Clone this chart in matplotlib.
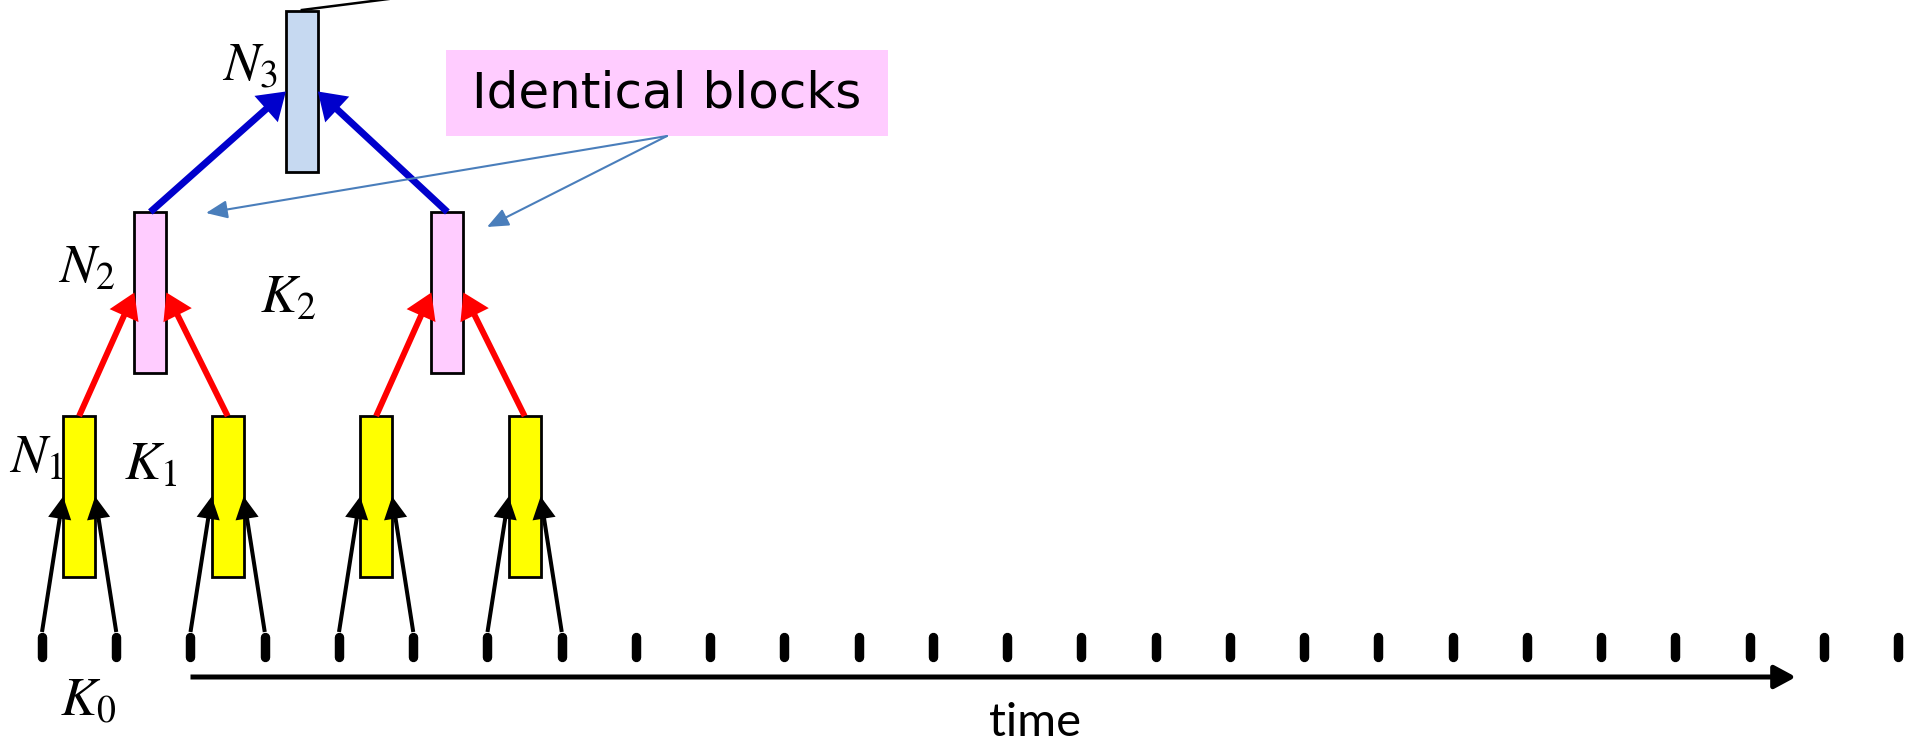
import numpy as np
import matplotlib
matplotlib.use('Agg')
import matplotlib.pyplot as plt
from matplotlib.patches import Rectangle, FancyArrowPatch

plt.rcParams['mathtext.fontset'] = 'stix'

# ---------------- data ----------------
time_steps = np.arange(26)                         # input samples on the time axis
level1_inputs = [(0, 1), (2, 3), (4, 5), (6, 7)]   # samples merged by each N1 block
level2_inputs = [(0, 1), (2, 3)]                   # N1 blocks merged by each N2 block
level3_inputs = [(0, 1)]                           # N2 blocks merged by the N3 block
level_colors = ['#FFFF00', '#FFCCFF', '#C6D9F1']
arrow_colors = ['black', '#FF0000', '#0000CC']
node_labels = [r'$N_1$', r'$N_2$', r'$N_3$']
kernel_labels = [r'$K_0$', r'$K_1$', r'$K_2$']
annotation_text = 'Identical blocks'
axis_label = 'time'

# ---------------- layout (pixel geometry) ----------------
W, H = 1906, 744
T0, STEP = 42.0, 74.25          # pixel x of first sample, pixel spacing


def X(px):
    return (px - T0) / STEP


fig = plt.figure(figsize=(W / 100, H / 100), dpi=100)
ax = fig.add_axes([0, 0, 1, 1])
ax.set_xlim(X(0), X(W))
ax.set_ylim(H, 0)
ax.axis('off')

box_w = 32 / STEP
box_h = 161
level_top = [416, 212, 11]
level_shift = [0.0, -3 / STEP, 0.0]   # small drawing offsets seen in the figure
arrow_style = [
    dict(lw=2.9, hl=11.5, hw=6.0),
    dict(lw=4.3, hl=12.0, hw=7.5),
    dict(lw=5.0, hl=12.0, hw=8.0),
]

# time ticks
tick_top, tick_bot = 632, 661
for t in time_steps:
    ax.plot([t, t], [tick_top + 4.5, tick_bot - 4.5], color='black', lw=6.8,
            solid_capstyle='round', zorder=3)

# time arrow
ax.add_patch(FancyArrowPatch((time_steps[2], 677), (X(1796), 677),
                             arrowstyle='-|>,head_length=13,head_width=7',
                             mutation_scale=1, lw=3.6, color='black',
                             shrinkA=0, shrinkB=0, capstyle='butt', zorder=3))
ax.text(X(1035), 723, axis_label, ha='center', va='center', fontsize=34,
        family='Lato')

# block centers for each level
c1 = [np.mean([time_steps[a], time_steps[b]]) for a, b in level1_inputs]
c2 = [np.mean([c1[a], c1[b]]) for a, b in level2_inputs]
c3 = [np.mean([c2[a], c2[b]]) for a, b in level3_inputs]
centers = [c1, c2, c3]
drawn = [[c + level_shift[i] for c in centers[i]] for i in range(3)]

sources = [
    ([(time_steps[a], time_steps[b]) for a, b in level1_inputs], tick_top),
    ([(drawn[0][a], drawn[0][b]) for a, b in level2_inputs], level_top[0]),
    ([(drawn[1][a], drawn[1][b]) for a, b in level3_inputs], level_top[1]),
]

for lvl in range(3):
    top = level_top[lvl]
    mid = top + box_h / 2
    st = arrow_style[lvl]
    src_pairs, src_y = sources[lvl]
    for c, (sa, sb) in zip(drawn[lvl], src_pairs):
        ax.add_patch(Rectangle((c - box_w / 2, top), box_w, box_h,
                               facecolor=level_colors[lvl], edgecolor='black',
                               lw=2.0, zorder=2))
        for s, edge in ((sa, c - box_w / 2), (sb, c + box_w / 2)):
            ax.add_patch(FancyArrowPatch(
                (s, src_y), (edge, mid),
                arrowstyle=f'-|>,head_length={st["hl"]},head_width={st["hw"]}',
                mutation_scale=1, lw=st['lw'], color=arrow_colors[lvl],
                shrinkA=0, shrinkB=0, capstyle='butt', joinstyle='miter',
                zorder=4))

# line leaving the top block (continues off the figure)
ax.plot([drawn[2][0], X(420)], [10, -5], color='black', lw=1.8, zorder=3)

# labels
lab_fs = 39
ax.text(X(36), 458, node_labels[0], ha='center', va='center', fontsize=lab_fs)
ax.text(X(87), 268, node_labels[1], ha='center', va='center', fontsize=lab_fs)
ax.text(X(250), 65, node_labels[2], ha='center', va='center', fontsize=lab_fs)
ax.text(X(88), 700, kernel_labels[0], ha='center', va='center', fontsize=lab_fs)
ax.text(X(151), 465, kernel_labels[1], ha='center', va='center', fontsize=lab_fs)
ax.text(X(288), 298, kernel_labels[2], ha='center', va='center', fontsize=lab_fs)

# "Identical blocks" callout
ax.add_patch(Rectangle((X(446), 50), X(888) - X(446), 86, facecolor='#FFCCFF',
                       edgecolor='none', zorder=2))
ax.text(X(667), 93, annotation_text, ha='center', va='center', fontsize=36,
        family='DejaVu Sans', zorder=3)
for tip in ((X(206), 213), (X(487), 227)):
    ax.add_patch(FancyArrowPatch((X(667), 136), tip,
                                 arrowstyle='-|>,head_length=13,head_width=5.5',
                                 mutation_scale=1, lw=1.5, color='#4A7EBB',
                                 shrinkA=0, shrinkB=0, zorder=5))

fig.savefig('out.png', dpi=100)
